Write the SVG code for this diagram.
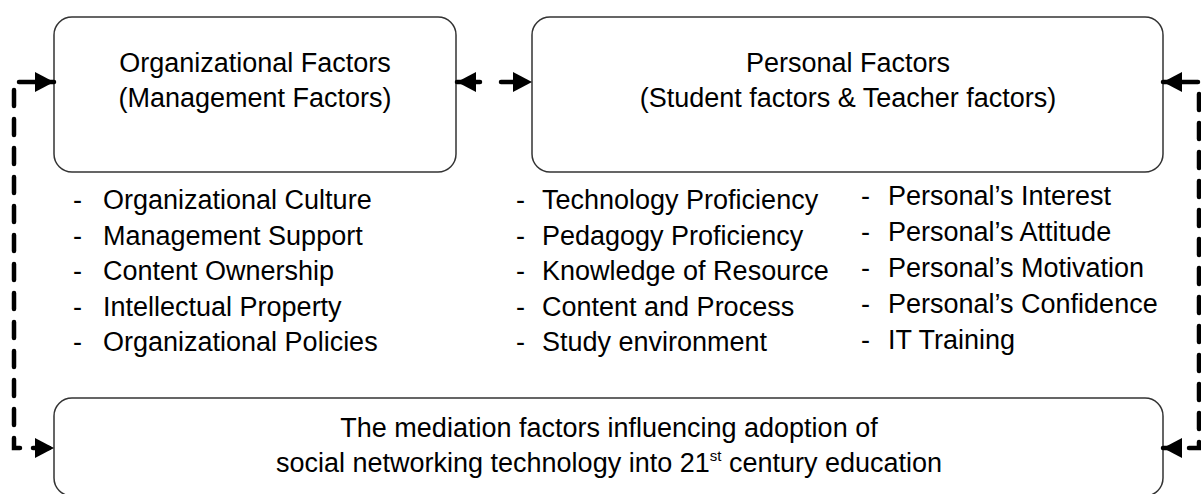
<svg xmlns="http://www.w3.org/2000/svg" width="1201" height="494" viewBox="0 0 1201 494">
<style>
.box{fill:#fff;stroke:#333;stroke-width:1.5}
.t{font-family:"Liberation Sans",Arial,sans-serif;font-size:27px;fill:#000}
.c{text-anchor:middle}
.con{fill:none;stroke:#000;stroke-width:4.5;stroke-linecap:round}
</style>
<defs>
<marker id="ah" markerUnits="userSpaceOnUse" markerWidth="19" markerHeight="20" viewBox="0 0 19 20" refX="19" refY="10" orient="auto-start-reverse">
<path d="M0,0 L19,10 L0,20 z" fill="#000"/>
</marker>
</defs>
<rect width="1201" height="494" fill="#fff"/>
<g id="organizational">
<rect class="box" x="54" y="17" width="402" height="155" rx="18"/>
<text class="t c" x="255" y="72">Organizational Factors</text>
<text class="t c" x="255" y="107">(Management Factors)</text>
</g>
<g id="personal">
<rect class="box" x="532" y="17" width="631" height="155" rx="18"/>
<text class="t c" x="848" y="72">Personal Factors</text>
<text class="t c" x="848" y="107">(Student factors &amp; Teacher factors)</text>
</g>
<g id="mediation">
<rect class="box" x="54" y="398" width="1109" height="98" rx="18"/>
<text class="t c" x="609" y="437">The mediation factors influencing adoption of</text>
<text class="t c" x="609" y="472">social networking technology into 21<tspan font-size="15" dy="-11">st</tspan><tspan dy="11"> century education</tspan></text>
</g>
<g id="org-list" class="t">
<text x="73" y="209">-</text><text x="103" y="209">Organizational Culture</text>
<text x="73" y="245">-</text><text x="103" y="245">Management Support</text>
<text x="73" y="280">-</text><text x="103" y="280">Content Ownership</text>
<text x="73" y="316">-</text><text x="103" y="316">Intellectual Property</text>
<text x="73" y="351">-</text><text x="103" y="351">Organizational Policies</text>
</g>
<g id="personal-list-1" class="t">
<text x="516" y="209">-</text><text x="542" y="209">Technology Proficiency</text>
<text x="516" y="245">-</text><text x="542" y="245">Pedagogy Proficiency</text>
<text x="516" y="280">-</text><text x="542" y="280">Knowledge of Resource</text>
<text x="516" y="316">-</text><text x="542" y="316">Content and Process</text>
<text x="516" y="351">-</text><text x="542" y="351">Study environment</text>
</g>
<g id="personal-list-2" class="t">
<text x="861" y="205">-</text><text x="888" y="205">Personal’s Interest</text>
<text x="861" y="241">-</text><text x="888" y="241">Personal’s Attitude</text>
<text x="861" y="277">-</text><text x="888" y="277">Personal’s Motivation</text>
<text x="861" y="313">-</text><text x="888" y="313">Personal’s Confidence</text>
<text x="861" y="349">-</text><text x="888" y="349">IT Training</text>
</g>
<g id="connectors">
<path class="con" d="M54 82 H14 V448 H54" stroke-dasharray="16 13" stroke-dashoffset="10" marker-start="url(#ah)" marker-end="url(#ah)"/>
<path class="con" d="M457 82 H532" stroke-dasharray="23 21" marker-start="url(#ah)" marker-end="url(#ah)"/>
<path class="con" d="M1163 82 H1199 V448 H1163" stroke-dasharray="16 13" stroke-dashoffset="10" marker-start="url(#ah)" marker-end="url(#ah)"/>
</g>
</svg>
